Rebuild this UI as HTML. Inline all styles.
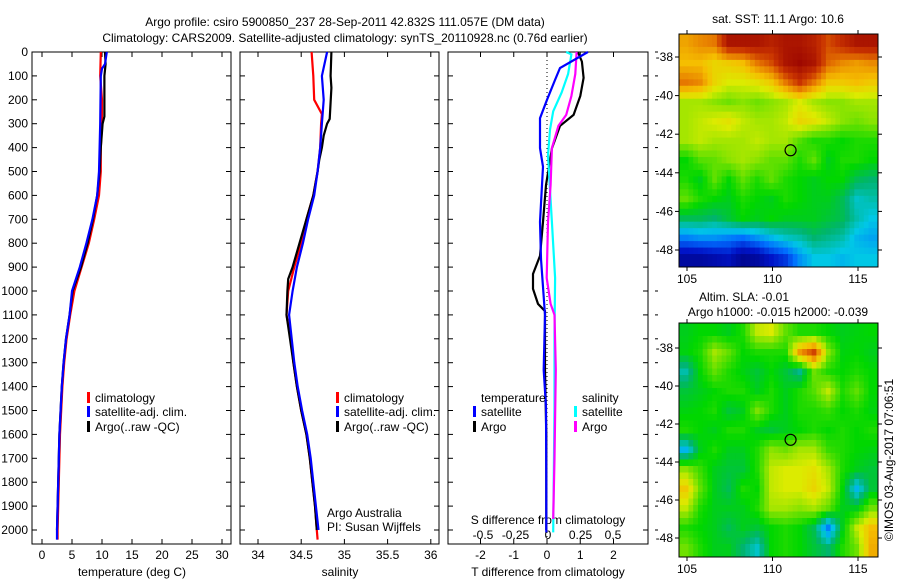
<!DOCTYPE html>
<html><head><meta charset="utf-8"><style>
html,body{margin:0;padding:0;background:#fff;}
svg{display:block;font-family:"Liberation Sans",sans-serif;}
text{font-size:12px;fill:#000;}
</style></head><body>
<svg id="fig" width="900" height="580" viewBox="0 0 900 580" xmlns="http://www.w3.org/2000/svg">
<text x="345" y="26" text-anchor="middle">Argo profile: csiro 5900850_237 28-Sep-2011 42.832S 111.057E (DM data)</text>
<text x="345" y="42" text-anchor="middle">Climatology: CARS2009. Satellite-adjusted climatology: synTS_20110928.nc (0.76d earlier)</text>
<text x="132" y="576" text-anchor="middle">temperature (deg C)</text>
<text x="340" y="576" text-anchor="middle">salinity</text>
<text x="548" y="576" text-anchor="middle">T difference from climatology</text>
<text x="548" y="524" text-anchor="middle">S difference from climatology</text>
<text x="327" y="517">Argo Australia</text>
<text x="327" y="531">PI: Susan Wijffels</text>
<text x="778" y="23" text-anchor="middle">sat. SST: 11.1 Argo: 10.6</text>
<text x="744" y="301" text-anchor="middle">Altim. SLA: -0.01</text>
<text x="778" y="316" text-anchor="middle">Argo h1000: -0.015 h2000: -0.039</text>
<text transform="translate(893,460) rotate(-90)" text-anchor="middle">©IMOS 03-Aug-2017 07:06:51</text>
</svg>
<script>
const depthTicks=[0,100,200,300,400,500,600,700,800,900,1000,1100,1200,1300,1400,1500,1600,1700,1800,1900,2000];
const tempTicks=[0,5,10,15,20,25,30];
const salTicks=[34,34.5,35,35.5,36];
const tdiffTicks=[-2,-1,0,1,2];
const sdiffTicks=[-0.5,-0.25,0,0.25,0.5];
const latTicks=[-38,-40,-42,-44,-46,-48];
const lonTicks=[105,110,115];

const tClimDepth=[0,100,200,300,400,500,600,700,800,900,1000,1100,1200,1300,1400,1500,1600,1700,1800,1900,2000,2040];
const tClimVal=[9.8,9.7,10,10,9.8,9.8,9.5,8.7,7.8,6.6,5.4,4.7,4.1,3.7,3.4,3.2,3.0,2.9,2.8,2.7,2.6,2.6];
const tSatDepth=[0,50,70,100,300,500,600,700,800,900,1000,1100,1200,1300,1400,1500,1600,1700,1800,1900,2000,2040];
const tSatVal=[10.8,10.5,10.0,9.8,9.7,9.5,9.2,8.4,7.4,6.3,5.0,4.6,4.0,3.6,3.3,3.1,2.9,2.8,2.7,2.6,2.5,2.5];
const tArgoDepth=[0,50,100,270,300,400,500,600,700,800,900,1000,1100,1200,1300,1400,1500,1600,1700,1800,1900,2000];
const tArgoVal=[10.5,10.6,10.4,10.4,10.1,9.8,9.6,9.2,8.5,7.6,6.5,5.1,4.6,4.0,3.6,3.3,3.1,2.9,2.8,2.7,2.6,2.5];

const sClimDepth=[0,100,200,260,300,400,500,600,700,800,900,1000,1100,1200,1300,1400,1500,1600,1700,1800,1900,2000,2040];
const sClimVal=[34.62,34.64,34.65,34.74,34.73,34.72,34.69,34.64,34.56,34.5,34.42,34.35,34.33,34.38,34.41,34.45,34.5,34.56,34.6,34.63,34.66,34.68,34.69];
const sSatDepth=[0,100,200,300,400,500,600,700,800,900,1000,1100,1200,1300,1400,1500,1600,1700,1800,1900,2000];
const sSatVal=[34.80,34.74,34.76,34.74,34.72,34.69,34.65,34.58,34.52,34.45,34.40,34.36,34.39,34.42,34.46,34.51,34.57,34.61,34.64,34.67,34.70];
const sArgoDepth=[0,100,150,280,300,350,400,450,500,600,700,800,900,950,1000,1100,1200,1300,1400,1500,1600,1700,1800,1900,2000];
const sArgoVal=[34.85,34.84,34.85,34.83,34.8,34.76,34.74,34.71,34.69,34.64,34.56,34.48,34.4,34.35,34.34,34.33,34.37,34.41,34.45,34.5,34.56,34.6,34.63,34.66,34.68];

const tdSatDepth=[0,67,117,200,277,402,480,711,866,1100,1330,1486,1797,2010];
const tdSatVal=[1.23,0.39,0.24,0,-0.21,-0.21,-0.12,-0.21,-0.18,-0.06,-0.1,-0.03,-0.02,-0.02];
const tdArgoDepth=[0,40,108,184,263,309,402,557,711,853,929,991,1054,1084,1330,1600,2000];
const tdArgoVal=[0.93,1.05,1.1,1.0,0.8,0.39,0.15,-0.03,-0.12,-0.21,-0.42,-0.42,-0.27,-0.06,-0.06,-0.02,-0.02];
const sdSatDepth=[0,10,92,170,248,325,433,711,945,1176,1486,2010];
const sdSatVal=[0.14,0.18,0.155,0.105,0.04,0.015,0,0.03,0.055,0.05,0.05,0.04];
const sdArgoDepth=[0,92,184,263,309,402,557,711,945,1054,1100,1330,1700,1954];
const sdArgoVal=[0.22,0.21,0.18,0.14,0.08,0.03,0.02,0,-0.01,0.02,0.05,0.06,0.05,0.04];

const sstGrid=[
[0.75,0.78,0.8,0.95,0.95,0.95,0.92,0.95,0.95,0.92,0.85,0.9,0.95,0.95],
[0.72,0.72,0.68,0.7,0.72,0.8,0.85,0.95,0.98,0.95,0.82,0.78,0.76,0.78],
[0.8,0.78,0.68,0.64,0.64,0.66,0.7,0.8,0.88,0.8,0.7,0.7,0.72,0.7],
[0.6,0.6,0.58,0.56,0.58,0.56,0.58,0.6,0.64,0.6,0.58,0.58,0.6,0.6],
[0.6,0.62,0.64,0.66,0.62,0.6,0.6,0.62,0.68,0.66,0.62,0.58,0.56,0.58],
[0.6,0.62,0.6,0.6,0.6,0.62,0.6,0.6,0.54,0.5,0.5,0.48,0.5,0.5],
[0.48,0.54,0.55,0.58,0.6,0.58,0.55,0.55,0.5,0.55,0.46,0.5,0.5,0.48],
[0.5,0.46,0.55,0.48,0.55,0.5,0.55,0.5,0.48,0.46,0.48,0.48,0.42,0.4],
[0.55,0.5,0.48,0.46,0.5,0.48,0.46,0.5,0.48,0.46,0.46,0.42,0.34,0.36],
[0.42,0.42,0.4,0.44,0.48,0.46,0.48,0.46,0.46,0.46,0.44,0.42,0.36,0.32],
[0.24,0.26,0.26,0.24,0.22,0.26,0.3,0.34,0.36,0.4,0.38,0.36,0.3,0.28],
[0.06,0.06,0.08,0.1,0.04,0.06,0.12,0.16,0.26,0.32,0.32,0.3,0.32,0.32]];
const slaGrid=[
[0.46,0.48,0.48,0.46,0.5,0.62,0.64,0.55,0.5,0.5,0.48,0.46,0.47,0.48],
[0.47,0.5,0.6,0.55,0.48,0.5,0.5,0.5,0.76,0.86,0.58,0.47,0.48,0.46],
[0.36,0.48,0.55,0.5,0.47,0.44,0.48,0.44,0.38,0.56,0.5,0.48,0.5,0.48],
[0.44,0.46,0.48,0.5,0.5,0.46,0.5,0.46,0.5,0.54,0.62,0.5,0.55,0.48],
[0.47,0.48,0.5,0.44,0.46,0.57,0.5,0.46,0.5,0.5,0.52,0.48,0.5,0.47],
[0.5,0.48,0.46,0.5,0.5,0.46,0.44,0.46,0.48,0.5,0.48,0.5,0.48,0.5],
[0.3,0.46,0.5,0.46,0.46,0.5,0.58,0.56,0.6,0.6,0.52,0.5,0.48,0.47],
[0.58,0.52,0.46,0.44,0.44,0.5,0.62,0.64,0.64,0.66,0.6,0.5,0.46,0.44],
[0.7,0.55,0.46,0.42,0.5,0.48,0.62,0.64,0.64,0.68,0.62,0.48,0.3,0.44],
[0.62,0.5,0.46,0.46,0.46,0.5,0.6,0.6,0.58,0.6,0.55,0.46,0.46,0.56],
[0.5,0.48,0.46,0.42,0.46,0.44,0.48,0.5,0.48,0.42,0.24,0.46,0.62,0.72],
[0.56,0.5,0.46,0.46,0.4,0.34,0.48,0.5,0.48,0.44,0.4,0.5,0.56,0.74]];
const argoLon=111.057, argoLat=-42.832;

const NS='http://www.w3.org/2000/svg';
const svg=document.getElementById('fig');
function mk(tag,attrs,parent){const e=document.createElementNS(NS,tag);for(const k in attrs)e.setAttribute(k,attrs[k]);(parent||svg).appendChild(e);return e;}
const TOP=52,BOT=544;
const yD=d=>TOP+d*0.239;
const xT=v=>42+v*6;
const xS=v=>258+(v-34)*86.4;
const xTd=v=>547+v*33.25;
const xSd=v=>548+v*130;
const mapX=lon=>687+(lon-105)*17.1;
const map1Y=lat=>57+(-38-lat)*19.3;
const map2Y=lat=>348+(-38-lat)*19.0;
const cmapStops=[[0,[0,0,120]],[0.12,[0,20,200]],[0.22,[0,110,255]],[0.32,[0,200,230]],[0.40,[0,180,110]],[0.48,[0,215,0]],[0.56,[110,225,0]],[0.64,[220,235,0]],[0.72,[245,190,0]],[0.80,[230,120,0]],[0.88,[200,50,0]],[1.0,[150,0,0]]];
function cmap(v){
  v=Math.max(0,Math.min(1,v));
  for(let i=1;i<cmapStops.length;i++){
    if(v<=cmapStops[i][0]){
      const a=cmapStops[i-1],b=cmapStops[i],t=(v-a[0])/(b[0]-a[0]);
      const c=a[1].map((x,k)=>Math.round(x+(b[1][k]-x)*t));
      return 'rgb('+c.join(',')+')';
    }
  }
  return 'rgb(150,0,0)';
}

const panels=[{x0:32,x1:231,name:'temperature-panel'},{x0:240,x1:439,name:'salinity-panel'},{x0:448,x1:648,name:'difference-panel'}];
panels.forEach((p,pi)=>{
  const g=mk('g',{});
  
  
  const r=mk('rect',{x:p.x0,y:TOP,width:p.x1-p.x0,height:BOT-TOP,fill:'none',stroke:'#000','stroke-width':1},g);
  
  
  depthTicks.forEach(d=>{
    const y=yD(d);
    const t1=mk('line',{x1:p.x0,x2:p.x0+5,y1:y,y2:y,stroke:'#000'},g);
    
    
    const t2=mk('line',{x1:p.x1,x2:p.x1-5,y1:y,y2:y,stroke:'#000'},g);
    
    
    if(pi===0){
      const tl=mk('text',{x:28,y:y+4,'text-anchor':'end'});
      tl.textContent=d;
      
      
    }
    if(pi===2 && (d<600||d>900)){
      const t3=mk('line',{x1:p.x1+7,x2:p.x1+10,y1:y,y2:y,stroke:'#000'},g);
      
      
    }
  });
});
function xAxis(ticks,fx,labY,fmt,topTicks){
  ticks.forEach(v=>{
    const x=fx(v);
    const a=mk('line',{x1:x,x2:x,y1:BOT,y2:BOT-5,stroke:'#000'});
    
    
    if(topTicks){
      const b=mk('line',{x1:x,x2:x,y1:TOP,y2:TOP+5,stroke:'#000'});
      
      
    }
    const t=mk('text',{x:x,y:labY,'text-anchor':'middle'});
    t.textContent=fmt(v);
    
    
  });
}
xAxis(tempTicks,xT,559,v=>v,true);
xAxis(salTicks,xS,559,v=>v,true);
xAxis(tdiffTicks,xTd,559,v=>v,true);
sdiffTicks.forEach(v=>{
  const t=mk('text',{x:xSd(v),y:539,'text-anchor':'middle'});
  t.textContent=v;
  
  
});
const zl=mk('line',{x1:xTd(0),x2:xTd(0),y1:TOP,y2:BOT,stroke:'#000','stroke-dasharray':'1,3'});



function series(depths,vals,fx,color,name){
  const pts=depths.map((d,i)=>fx(vals[i]).toFixed(1)+','+yD(d).toFixed(1)).join(' ');
  const pl=mk('polyline',{points:pts,fill:'none',stroke:color,'stroke-width':2.2});
  
  
}
series(tClimDepth,tClimVal,xT,'#ff0000','temp-climatology-line');
series(tArgoDepth,tArgoVal,xT,'#000000','temp-argo-line');
series(tSatDepth,tSatVal,xT,'#0000ff','temp-satellite-line');
series(sClimDepth,sClimVal,xS,'#ff0000','sal-climatology-line');
series(sArgoDepth,sArgoVal,xS,'#000000','sal-argo-line');
series(sSatDepth,sSatVal,xS,'#0000ff','sal-satellite-line');
series(tdArgoDepth,tdArgoVal,xTd,'#000000','tdiff-argo-line');
series(sdSatDepth,sdSatVal,xSd,'#00ffff','sdiff-satellite-line');
series(sdArgoDepth,sdArgoVal,xSd,'#ff00ff','sdiff-argo-line');
series(tdSatDepth,tdSatVal,xTd,'#0000ff','tdiff-satellite-line');

function legend(x,y,color,label,name){
  if(color){
    const m=mk('rect',{x:x-8,y:y-10,width:3,height:11,fill:color});
    
    
  }
  const t=mk('text',{x:x,y:y});
  t.textContent=label;
  
  
}
legend(95,402,'#ff0000','climatology','legend-climatology');
legend(95,416,'#0000ff','satellite-adj. clim.','legend-satellite');
legend(95,431,'#000000','Argo(..raw -QC)','legend-argo');
legend(344,402,'#ff0000','climatology','legend-climatology-2');
legend(344,416,'#0000ff','satellite-adj. clim.','legend-satellite-2');
legend(344,431,'#000000','Argo(..raw -QC)','legend-argo-2');
legend(481,402,null,'temperature','legend-temperature-header');
legend(481,416,'#0000ff','satellite','legend-t-satellite');
legend(481,431,'#000000','Argo','legend-t-argo');
legend(582,402,null,'salinity','legend-salinity-header');
legend(582,416,'#00ffff','satellite','legend-s-satellite');
legend(582,431,'#ff00ff','Argo','legend-s-argo');

function sampleGrid(grid,r,c){
  const R=grid.length-1,C=grid[0].length-1;
  r=Math.max(0,Math.min(R,r));c=Math.max(0,Math.min(C,c));
  const r0=Math.floor(r),c0=Math.floor(c),r1=Math.min(R,r0+1),c1=Math.min(C,c0+1);
  const fr=r-r0,fc=c-c0;
  return grid[r0][c0]*(1-fr)*(1-fc)+grid[r0][c1]*(1-fr)*fc+grid[r1][c0]*fr*(1-fc)+grid[r1][c1]*fr*fc;
}
function drawMap(grid,x0,x1,y0,y1,fy,name){
  const g=mk('g',{});
  
  
  const rows=grid.length,cols=grid[0].length,sub=3;
  const cw=(x1-x0)/(cols*sub),ch=(y1-y0)/(rows*sub);
  for(let r=0;r<rows*sub;r++){
    for(let c=0;c<cols*sub;c++){
      const v=sampleGrid(grid,(r+0.5)/sub-0.5,(c+0.5)/sub-0.5);
      const cell=mk('rect',{x:(x0+c*cw).toFixed(2),y:(y0+r*ch).toFixed(2),width:(cw+0.5).toFixed(2),height:(ch+0.5).toFixed(2),fill:cmap(v)},g);
      
      
    }
  }
  const fr=mk('rect',{x:x0,y:y0,width:x1-x0,height:y1-y0,fill:'none',stroke:'#000'},g);
  
  
  latTicks.forEach(l=>{
    const y=fy(l);
    const a=mk('line',{x1:x0-4,x2:x0,y1:y,y2:y,stroke:'#000'},g);
    
    
    const b=mk('line',{x1:x1,x2:x1+4,y1:y,y2:y,stroke:'#000'},g);
    
    
    const t=mk('text',{x:x0-6,y:y+4,'text-anchor':'end'},g);
    t.textContent=l;
    
    
  });
  lonTicks.forEach(l=>{
    const x=mapX(l);
    const a=mk('line',{x1:x,x2:x,y1:y1,y2:y1+4,stroke:'#000'},g);
    
    
    const b=mk('line',{x1:x,x2:x,y1:y0-4,y2:y0,stroke:'#000'},g);
    
    
    const t=mk('text',{x:x,y:y1+16,'text-anchor':'middle'},g);
    t.textContent=l;
    
    
  });
  const c=mk('circle',{cx:mapX(argoLon),cy:fy(argoLat),r:5.5,fill:'none',stroke:'#000','stroke-width':1.2},g);
  
  
}
drawMap(sstGrid,679,878,34,267,map1Y,'sst-map');
drawMap(slaGrid,679,878,323,557,map2Y,'sla-map');
</script>
</body></html>
